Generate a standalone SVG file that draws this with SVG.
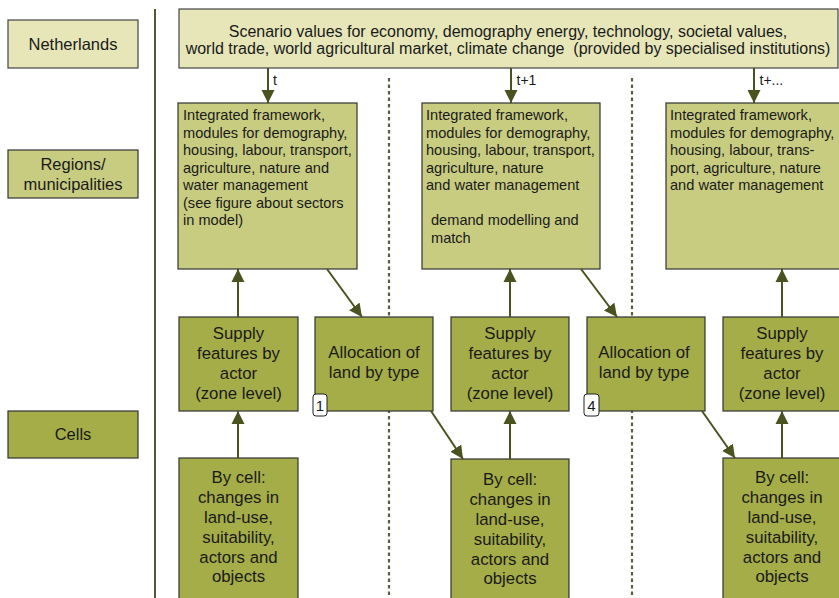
<svg xmlns="http://www.w3.org/2000/svg" width="839" height="598" viewBox="0 0 839 598">
<defs>
<marker id="ah" viewBox="0 0 10 10" refX="10" refY="5" markerUnits="userSpaceOnUse" markerWidth="13" markerHeight="14" orient="auto">
<path d="M0,0 L10,5 L0,10 z" fill="#4a5320"/>
</marker>
<style>
text{font-family:"Liberation Sans",Arial,sans-serif;fill:#1a1a1a}
.l1{fill:#e6e6b8;stroke:#444;stroke-width:1.2}
.l2{fill:#c8cc80;stroke:#333;stroke-width:1.2}
.l3{fill:#a5ad48;stroke:#333;stroke-width:1.2}
.c{text-anchor:middle}
.s16{font-size:16.8px}
.s15{font-size:16px}
.s14{font-size:14.6px}
.s13{font-size:14px}
.sb{font-size:15px}
.sl{font-size:16.5px}
.con{stroke:#4a5320;stroke-width:2;fill:none}
.dot{stroke:#5a5e45;stroke-width:2.2;stroke-dasharray:3.5 3;fill:none}
.badge{fill:#fff;stroke:#222;stroke-width:1}
</style>
</defs>
<rect width="839" height="598" fill="#fff"/>
<line x1="155" y1="9" x2="155" y2="598" stroke="#55553a" stroke-width="2"/>
<line class="dot" x1="389" y1="78" x2="389" y2="598"/>
<line class="dot" x1="632" y1="78" x2="632" y2="598"/>

<g id="netherlands"><rect class="l1" x="8" y="20" width="130" height="48"/><text class="c sl" x="73" y="49.5">Netherlands</text></g>
<g id="regions"><rect class="l2" x="8" y="150" width="130" height="48"/><text class="c sl" x="73" y="170">Regions/</text><text class="c sl" x="73" y="190">municipalities</text></g>
<g id="cells"><rect class="l3" x="8" y="411" width="130" height="47"/><text class="c sl" x="73" y="440">Cells</text></g>

<g id="scenario"><rect class="l1" x="179" y="9" width="659" height="59"/>
<text class="c s15" x="508" y="37">Scenario values for economy, demography energy, technology, societal values,</text>
<text class="c s15" x="508" y="54" xml:space="preserve">world trade, world agricultural market, climate change  (provided by specialised institutions)</text></g>

<g id="framework1"><rect class="l2" x="178" y="103" width="179" height="166"/>
<text class="s14" x="183" y="120">Integrated framework,</text>
<text class="s14" x="183" y="137.5">modules for demography,</text>
<text class="s14" x="183" y="155">housing, labour, transport,</text>
<text class="s14" x="183" y="172.5">agriculture, nature and</text>
<text class="s14" x="183" y="190">water management</text>
<text class="s14" x="183" y="207.5">(see figure about sectors</text>
<text class="s14" x="183" y="225">in model)</text></g>

<g id="framework2"><rect class="l2" x="422" y="103" width="178" height="166"/>
<text class="s14" x="426" y="120">Integrated framework,</text>
<text class="s14" x="426" y="137.5">modules for demography,</text>
<text class="s14" x="426" y="155">housing, labour, transport,</text>
<text class="s14" x="426" y="172.5">agriculture, nature</text>
<text class="s14" x="426" y="190">and water management</text>
<text class="s14" x="431" y="225">demand modelling and</text>
<text class="s14" x="431" y="242.5">match</text></g>

<g id="framework3"><rect class="l2" x="666" y="103" width="178" height="166"/>
<text class="s14" x="670" y="120">Integrated framework,</text>
<text class="s14" x="670" y="137.5">modules for demography,</text>
<text class="s14" x="670" y="155">housing, labour, trans-</text>
<text class="s14" x="670" y="172.5">port, agriculture, nature</text>
<text class="s14" x="670" y="190">and water management</text></g>

<g id="supply1"><rect class="l3" x="179" y="317" width="119" height="94"/>
<text class="c s16" x="238.5" y="338.5">Supply</text><text class="c s16" x="238.5" y="358.5">features by</text><text class="c s16" x="238.5" y="378.5">actor</text><text class="c s16" x="238.5" y="398.5">(zone level)</text></g>
<g id="allocation1"><rect class="l3" x="315" y="317" width="118" height="94"/>
<text class="c s16" x="374" y="357.5">Allocation of</text><text class="c s16" x="374" y="378">land by type</text>
<rect class="badge" x="313" y="394" width="14" height="22" rx="3"/><text class="c sb" x="320" y="410.5">1</text></g>
<g id="supply2"><rect class="l3" x="451" y="317" width="118" height="94"/>
<text class="c s16" x="510" y="338.5">Supply</text><text class="c s16" x="510" y="358.5">features by</text><text class="c s16" x="510" y="378.5">actor</text><text class="c s16" x="510" y="398.5">(zone level)</text></g>
<g id="allocation2"><rect class="l3" x="587" y="317" width="118" height="94"/>
<text class="c s16" x="644" y="357.5">Allocation of</text><text class="c s16" x="644" y="378">land by type</text>
<rect class="badge" x="584" y="394" width="15" height="22" rx="3"/><text class="c sb" x="591.5" y="410.5">4</text></g>
<g id="supply3"><rect class="l3" x="723" y="317" width="121" height="94"/>
<text class="c s16" x="782" y="338.5">Supply</text><text class="c s16" x="782" y="358.5">features by</text><text class="c s16" x="782" y="378.5">actor</text><text class="c s16" x="782" y="398.5">(zone level)</text></g>

<g id="cell1"><rect class="l3" x="179" y="458" width="119" height="145"/>
<text class="c s16" x="238.5" y="483">By cell:</text><text class="c s16" x="238.5" y="503">changes in</text><text class="c s16" x="238.5" y="523">land-use,</text><text class="c s16" x="238.5" y="543">suitability,</text><text class="c s16" x="238.5" y="562.5">actors and</text><text class="c s16" x="238.5" y="582">objects</text></g>
<g id="cell2"><rect class="l3" x="451" y="459" width="118" height="145"/>
<text class="c s16" x="510" y="485">By cell:</text><text class="c s16" x="510" y="505">changes in</text><text class="c s16" x="510" y="525">land-use,</text><text class="c s16" x="510" y="545">suitability,</text><text class="c s16" x="510" y="564.5">actors and</text><text class="c s16" x="510" y="584">objects</text></g>
<g id="cell3"><rect class="l3" x="723" y="458" width="121" height="145"/>
<text class="c s16" x="782" y="483">By cell:</text><text class="c s16" x="782" y="503">changes in</text><text class="c s16" x="782" y="523">land-use,</text><text class="c s16" x="782" y="543">suitability,</text><text class="c s16" x="782" y="562.5">actors and</text><text class="c s16" x="782" y="582">objects</text></g>

<g id="connectors">
<line class="con" x1="268" y1="68" x2="268" y2="103" marker-end="url(#ah)"/>
<line class="con" x1="511" y1="68" x2="511" y2="103" marker-end="url(#ah)"/>
<line class="con" x1="754" y1="68" x2="754" y2="103" marker-end="url(#ah)"/>
<text class="s13" x="273" y="85">t</text>
<text class="s13" x="516.5" y="85">t+1</text>
<text class="s13" x="759.5" y="85">t+...</text>
<line class="con" x1="238" y1="317" x2="238" y2="269" marker-end="url(#ah)"/>
<line class="con" x1="238" y1="458" x2="238" y2="411" marker-end="url(#ah)"/>
<line class="con" x1="510" y1="317" x2="510" y2="269" marker-end="url(#ah)"/>
<line class="con" x1="510" y1="459" x2="510" y2="411" marker-end="url(#ah)"/>
<line class="con" x1="782" y1="317" x2="782" y2="269" marker-end="url(#ah)"/>
<line class="con" x1="782" y1="458" x2="782" y2="411" marker-end="url(#ah)"/>
<line class="con" x1="327" y1="269" x2="362" y2="317" marker-end="url(#ah)"/>
<line class="con" x1="431" y1="411" x2="463" y2="459" marker-end="url(#ah)"/>
<line class="con" x1="581" y1="269" x2="617" y2="317" marker-end="url(#ah)"/>
<line class="con" x1="702" y1="411" x2="735" y2="458" marker-end="url(#ah)"/>
</g>
</svg>
